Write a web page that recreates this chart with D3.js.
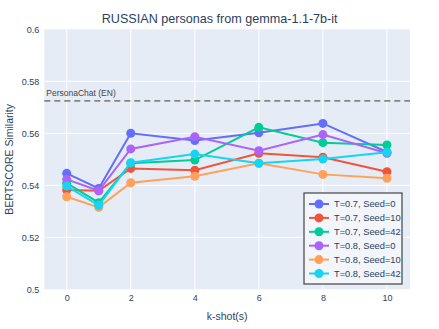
<!DOCTYPE html>
<html><head><meta charset="utf-8">
<script src="https://cdn.jsdelivr.net/npm/d3@7"></script>
<style>body{margin:0;background:#fff;} svg{display:block;font-family:"Liberation Sans",Arial,sans-serif;}</style>
</head><body><svg id="c" width="439" height="329"></svg>
<script>
const kshots = [0, 1, 2, 4, 6, 8, 10];
const seriesNames = ["T=0.7, Seed=0","T=0.7, Seed=10","T=0.7, Seed=42","T=0.8, Seed=0","T=0.8, Seed=10","T=0.8, Seed=42"];
const s07_0  = [0.5446, 0.5388, 0.5600, 0.5572, 0.5602, 0.5638, 0.5528];
const s07_10 = [0.5382, 0.5379, 0.5465, 0.5458, 0.5523, 0.5508, 0.5452];
const s07_42 = [0.5408, 0.5333, 0.5485, 0.5497, 0.5623, 0.5564, 0.5555];
const s08_0  = [0.5423, 0.5379, 0.5540, 0.5587, 0.5533, 0.5595, 0.5523];
const s08_10 = [0.5356, 0.5315, 0.5410, 0.5435, 0.5485, 0.5442, 0.5427];
const s08_42 = [0.5397, 0.5323, 0.5487, 0.5520, 0.5485, 0.5501, 0.5527];
const colors = ["#636efa","#EF553B","#00cc96","#ab63fa","#FFA15A","#19d3f3"];
const xTicks = [0, 2, 4, 6, 8, 10];
const yTicks = [0.5, 0.52, 0.54, 0.56, 0.58, 0.6];
const baseline = 0.5725;
const baselineLabel = "PersonaChat (EN)";
const title = "RUSSIAN personas from gemma-1.1-7b-it";

const allSeries = [s07_0, s07_10, s07_42, s08_0, s08_10, s08_42];
const svg = d3.select("#c");
const L = 44.3, R = 410, T = 29.3, B = 289.3;
const x = d3.scaleLinear().domain([-0.7, 10.72]).range([L, R]);
const y = d3.scaleLinear().domain([0.5, 0.6]).range([B, T]);
const fc = "#2a3f5f";

svg.append("rect").attr("x", L).attr("y", T).attr("width", R - L).attr("height", B - T).attr("fill", "#E5ECF6");
svg.append("g").selectAll("line").data(xTicks).join("line")
  .attr("x1", d => x(d)).attr("x2", d => x(d)).attr("y1", T).attr("y2", B)
  .attr("stroke", "#fff").attr("stroke-width", 1);
svg.append("g").selectAll("line").data(yTicks.slice(1, -1)).join("line")
  .attr("y1", d => y(d)).attr("y2", d => y(d)).attr("x1", L).attr("x2", R)
  .attr("stroke", "#fff").attr("stroke-width", 1);

const xAxis = d3.axisBottom(x).tickValues(xTicks).tickSize(0).tickPadding(5).tickFormat(d3.format("d"));
const gx = svg.append("g").attr("transform", `translate(0,${B})`).call(xAxis);
gx.select(".domain").remove();
gx.selectAll("text").attr("fill", fc).attr("font-size", 9).attr("font-family", null);
const yAxis = d3.axisLeft(y).tickValues(yTicks).tickSize(0).tickPadding(5).tickFormat(d => String(+d.toFixed(2)));
const gy = svg.append("g").attr("transform", `translate(${L},0)`).call(yAxis);
gy.select(".domain").remove();
gy.selectAll("text").attr("fill", fc).attr("font-size", 9).attr("font-family", null);

svg.append("line").attr("x1", L).attr("x2", R).attr("y1", y(baseline)).attr("y2", y(baseline))
  .attr("stroke", "#858585").attr("stroke-width", 1.8).attr("stroke-dasharray", "6,4");
svg.append("text").attr("x", L + 2).attr("y", y(baseline) - 5).attr("font-size", 8.5)
  .attr("fill", "#444").text(baselineLabel);

const line = d3.line().x((d, i) => x(kshots[i])).y(d => y(d));
allSeries.forEach((s, k) => {
  const g = svg.append("g");
  g.append("path").datum(s).attr("d", line).attr("fill", "none").attr("stroke", colors[k]).attr("stroke-width", 2);
  g.selectAll("circle").data(s).join("circle")
    .attr("cx", (d, i) => x(kshots[i])).attr("cy", d => y(d)).attr("r", 4.5).attr("fill", colors[k]);
});

svg.append("text").attr("x", 219.7).attr("y", 23.3).attr("text-anchor", "middle").attr("font-size", 12.6)
  .attr("fill", fc).text(title);
svg.append("text").attr("x", (L + R) / 2).attr("y", 320).attr("text-anchor", "middle").attr("font-size", 10.5)
  .attr("fill", fc).text("k-shot(s)");
svg.append("text").attr("transform", `translate(13,${(T + B) / 2}) rotate(-90)`).attr("text-anchor", "middle")
  .attr("font-size", 10.5).attr("fill", fc).text("BERTSCORE Similarity");

const lg = svg.append("g").attr("transform", "translate(304,193)");
lg.append("rect").attr("width", 98).attr("height", 91).attr("fill", "#F2F5FA").attr("stroke", "#444").attr("stroke-width", 1.2);
seriesNames.forEach((n, k) => {
  const yy = 11 + k * 13.9;
  lg.append("line").attr("x1", 5).attr("x2", 25).attr("y1", yy).attr("y2", yy).attr("stroke", colors[k]).attr("stroke-width", 2);
  lg.append("circle").attr("cx", 15).attr("cy", yy).attr("r", 4.5).attr("fill", colors[k]);
  lg.append("text").attr("x", 30).attr("y", yy + 3.3).attr("font-size", 9.3).attr("fill", fc).text(n);
});
</script></body></html>
